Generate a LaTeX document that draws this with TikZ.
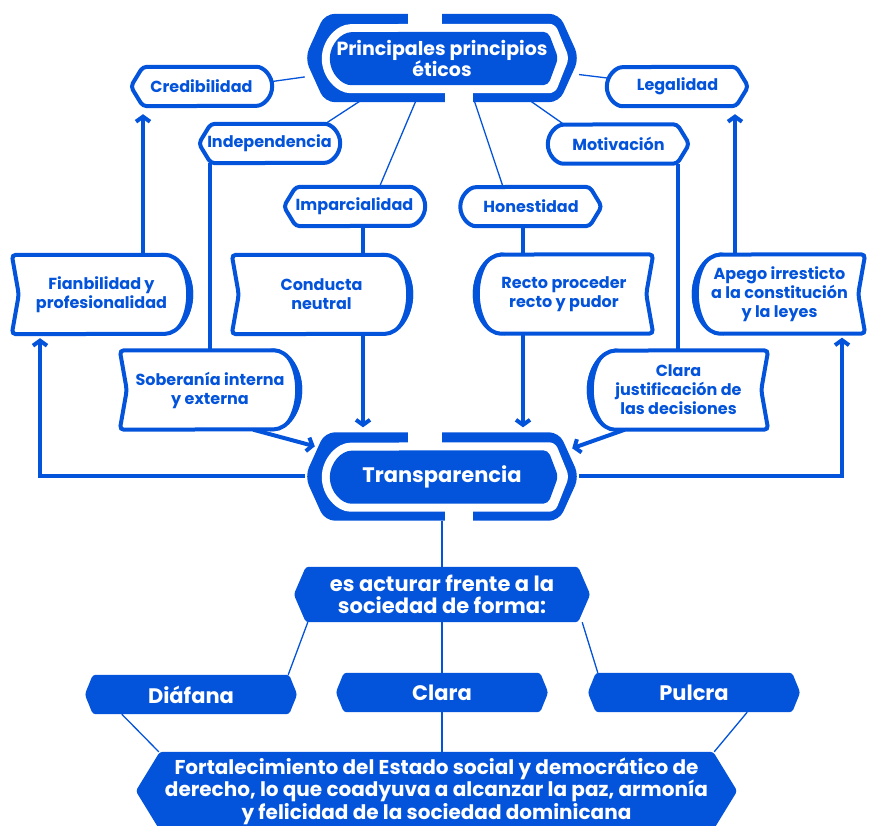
\documentclass[tikz,border=0pt]{standalone}
\usepackage{fontspec}
\setmainfont{Poppins}
\usepackage{tikz}
\usetikzlibrary{arrows.meta,backgrounds}
\definecolor{cblue}{HTML}{0353DB}

\begin{document}
\begin{tikzpicture}[
    x=1pt, y=1pt,
    thinline/.style={draw=cblue, line width=1.3pt},
    thickline/.style={draw=cblue, line width=4pt},
    arr/.style={thickline, -{Straight Barb[length=5pt,width=14pt]}},
    tagl/.style={minimum width=141pt, minimum height=39pt, inner sep=0pt, text=cblue,
      font=\bfseries\fontsize{16}{18}\selectfont,
      append after command={\pgfextra{
        \filldraw[fill=white, draw=cblue, line width=4pt, rounded corners=4pt]
          ([xshift=12pt]\tikzlastnode.north west) -- ([xshift=-19.5pt]\tikzlastnode.north east)
          arc[start angle=90, end angle=-90, radius=19.5pt]
          -- ([xshift=12pt]\tikzlastnode.south west) -- (\tikzlastnode.west) -- cycle;}}},
    tagr/.style={minimum width=141pt, minimum height=39pt, inner sep=0pt, text=cblue,
      font=\bfseries\fontsize{16}{18}\selectfont,
      append after command={\pgfextra{
        \filldraw[fill=white, draw=cblue, line width=4pt, rounded corners=4pt]
          (\tikzlastnode.north) -- ([xshift=-12pt]\tikzlastnode.north east)
          -- (\tikzlastnode.east) -- ([xshift=-12pt]\tikzlastnode.south east)
          -- ([xshift=19.5pt]\tikzlastnode.south west)
          arc[start angle=270, end angle=90, radius=19.5pt] -- cycle;}}},
    docl/.style={minimum width=#1, minimum height=79pt, inner sep=0pt, text=cblue, align=center,
      font=\bfseries\fontsize{16}{19}\selectfont,
      append after command={\pgfextra{
        \filldraw[fill=white, draw=cblue, line width=4pt, rounded corners=4pt]
          (\tikzlastnode.north west) -- ([xshift=-30pt]\tikzlastnode.north east)
          arc[start angle=90, end angle=-90, x radius=30pt, y radius=39.5pt]
          -- (\tikzlastnode.south west) -- ([xshift=7pt]\tikzlastnode.west) -- cycle;
        \fill[cblue] ([xshift=-30pt,yshift=2pt]\tikzlastnode.north east)
          arc[start angle=90, end angle=-90, x radius=32pt, y radius=41.5pt]
          arc[start angle=-90, end angle=90, x radius=25pt, y radius=41.5pt] -- cycle;}}},
    docr/.style={minimum width=#1, minimum height=79pt, inner sep=0pt, text=cblue, align=center,
      font=\bfseries\fontsize{16}{19}\selectfont,
      append after command={\pgfextra{
        \filldraw[fill=white, draw=cblue, line width=4pt, rounded corners=4pt]
          (\tikzlastnode.north) -- (\tikzlastnode.north east)
          -- ([xshift=-7pt]\tikzlastnode.east) -- (\tikzlastnode.south east)
          -- ([xshift=30pt]\tikzlastnode.south west)
          arc[start angle=270, end angle=90, x radius=30pt, y radius=39.5pt] -- cycle;
        \fill[cblue] ([xshift=30pt,yshift=2pt]\tikzlastnode.north west)
          arc[start angle=90, end angle=270, x radius=32pt, y radius=41.5pt]
          arc[start angle=270, end angle=90, x radius=25pt, y radius=41.5pt] -- cycle;}}},
    hexfill/.style={inner sep=0pt, text=white, align=center,
      append after command={\pgfextra{
        \fill[cblue, rounded corners=3pt]
          ([xshift=#1]\tikzlastnode.north west) -- ([xshift=-#1]\tikzlastnode.north east)
          -- (\tikzlastnode.east) -- ([xshift=-#1]\tikzlastnode.south east)
          -- ([xshift=#1]\tikzlastnode.south west) -- (\tikzlastnode.west) -- cycle;}}},
    ring/.style={minimum width=274pt, minimum height=88pt, inner sep=0pt, text=white, align=center,
      append after command={\pgfextra{
        \fill[cblue, rounded corners=10pt]
          ([xshift=20pt]\tikzlastnode.north west) -- ([xshift=-20pt]\tikzlastnode.north east)
          -- (\tikzlastnode.east) -- ([xshift=-20pt]\tikzlastnode.south east)
          -- ([xshift=20pt]\tikzlastnode.south west) -- (\tikzlastnode.west) -- cycle;
        \fill[white, rounded corners=6pt]
          ([yshift=-10pt]\tikzlastnode.north) -- ([xshift=-24pt,yshift=-10pt]\tikzlastnode.north east)
          -- ([xshift=-10pt]\tikzlastnode.east) -- ([xshift=-24pt,yshift=9pt]\tikzlastnode.south east)
          -- ([xshift=51.5pt,yshift=9pt]\tikzlastnode.south west)
          arc[start angle=270, end angle=90, radius=34.5pt] -- cycle;
        \fill[cblue, rounded corners=5pt]
          ([yshift=-18pt]\tikzlastnode.north) -- ([xshift=-31pt,yshift=-18pt]\tikzlastnode.north east)
          -- ([xshift=-21pt]\tikzlastnode.east) -- ([xshift=-31pt,yshift=17pt]\tikzlastnode.south east)
          -- ([xshift=51.5pt,yshift=17pt]\tikzlastnode.south west)
          arc[start angle=270, end angle=90, radius=26.5pt] -- cycle;
        \fill[white] ([xshift=-34pt,yshift=4pt]\tikzlastnode.north) rectangle ([yshift=-11pt]\tikzlastnode.north);
        \fill[white] ([xshift=3pt,yshift=-4pt]\tikzlastnode.south) rectangle ([xshift=31pt,yshift=11pt]\tikzlastnode.south);}}}
  ]
  \useasboundingbox (0,0) rectangle (871,-826);

  % hubs
  \node[ring, font=\bfseries\fontsize{19}{21}\selectfont] (ppe) at (442,-58) {Principales principios\\éticos};
  \node[ring, font=\bfseries\fontsize{21}{24}\selectfont] (trans) at (442,-476.5) {Transparencia};

  % principles
  \node[tagl] (cred) at (201.5,-86.5) {Credibilidad};
  \node[tagl] (indep) at (269.5,-143.5) {Independencia};
  \node[tagl] (impar) at (354.5,-206.5) {Imparcialidad};
  \node[tagr] (legal) at (677.5,-86.5) {Legalidad};
  \node[tagr] (motiv) at (618.5,-144) {Motivación};
  \node[tagr] (hones) at (531,-206.5) {Honestidad};

  \node[docl=179pt] (fiab) at (101.5,-294.5) {Fianbilidad y\\profesionalidad};
  \node[docl=179pt] (cond) at (321.5,-294.5) {Conducta\\neutral};
  \node[docl=180pt] (sober) at (210,-390) {Soberanía interna\\y externa};
  \node[docr=178pt] (recto) at (564,-294) {Recto proceder\\recto y pudor};
  \node[docr=171pt] (apego) at (779.5,-294) {Apego irresticto\\a la constitución\\y la leyes};
  \node[docr=179pt] (clarj) at (678.5,-390) {Clara\\justificación de\\las decisiones};

  % lower part
  \node[hexfill=12pt, minimum width=296pt, minimum height=55pt, font=\bfseries\fontsize{21}{22}\selectfont] (actuar) at (442,-594.5) {es acturar frente a la\\sociedad de forma:};
  \node[hexfill=8pt, minimum width=212pt, minimum height=39pt, font=\bfseries\fontsize{21}{22}\selectfont] (diaf) at (191,-694.5) {Diáfana};
  \node[hexfill=8pt, minimum width=212pt, minimum height=39pt, font=\bfseries\fontsize{21}{22}\selectfont] (clara) at (442,-692.5) {Clara};
  \node[hexfill=8pt, minimum width=212pt, minimum height=39pt, font=\bfseries\fontsize{21}{22}\selectfont] (pulcra) at (694,-692.5) {Pulcra};
  \node[hexfill=24pt, minimum width=601pt, minimum height=78pt, font=\bfseries\fontsize{20}{22.5}\selectfont] (fort) at (436.5,-791) {Fortalecimiento del Estado social y democrático de\\derecho, lo que coadyuva a alcanzar la paz, armonía\\y felicidad de la sociedad dominicana};

  \begin{scope}[on background layer]
    % thin links to the top hub
    \draw[thinline] ([yshift=5pt]cred.east) -- (ppe);
    \draw[thinline] ([xshift=-15pt]indep.north east) -- ([xshift=-16pt]ppe.center);
    \draw[thinline] ([xshift=25pt]impar.north) -- ([xshift=-8pt]ppe.center);
    \draw[thinline] (ppe) -- (legal);
    \draw[thinline] ([xshift=27pt]ppe.center) -- ([xshift=16pt]motiv.north west);
    \draw[thinline] ([xshift=18pt]ppe.center) -- ([xshift=-28pt]hones.north);

    % bars and arrows
    \draw[thickline] ([xshift=11pt]indep.south west) -- ([xshift=11pt]indep.south west |- sober.north);
    \draw[thickline] ([xshift=8.5pt]impar.south) -- ([xshift=8.5pt]impar.south |- cond.north);
    \draw[thickline] ([xshift=-8pt]hones.south) -- ([xshift=-8pt]hones.south |- recto.north);
    \draw[thickline] ([xshift=59.5pt]motiv.south) -- ([xshift=59.5pt]motiv.south |- clarj.north);
    \draw[arr, shorten >=8pt] ([xshift=41.5pt]fiab.north) -- ([xshift=41.5pt]fiab.north |- cred.south);
    \draw[arr, shorten >=8pt] ([xshift=-44.5pt]apego.north) -- ([xshift=-44.5pt]apego.north |- legal.south);
    \draw[arr, shorten >=5pt] ([xshift=41.5pt]cond.south) -- ([xshift=41.5pt]cond.south |- trans.north);
    \draw[arr, shorten >=5pt] ([xshift=-41pt]recto.south) -- ([xshift=-41pt]recto.south |- trans.north);
    \draw[arr] ([xshift=-47pt]sober.south east) -- ([shift={(10pt,-14pt)}]trans.north west);
    \draw[arr] ([xshift=36pt]clarj.south west) -- ([shift={(-7pt,-16pt)}]trans.north east);
    \draw[arr, shorten >=4pt] (trans.west) -| ([xshift=-61.5pt]fiab.south);
    \draw[arr, shorten >=4pt] (trans.east) -| ([xshift=62.5pt]apego.south);

    % lower links
    \draw[thinline] (trans) -- (actuar);
    \draw[thinline] ([xshift=14pt]actuar.south west) -- ([xshift=-9pt]diaf.north east);
    \draw[thinline] (actuar) -- (clara);
    \draw[thinline] ([xshift=-8pt]actuar.south east) -- ([xshift=10pt]pulcra.north west);
    \draw[thinline] ([xshift=37pt]diaf.south west) -- ([xshift=23pt]fort.north west);
    \draw[thinline] (clara) -- (clara |- fort.north);
    \draw[thinline] ([xshift=-53pt]pulcra.south east) -- ([xshift=-23pt]fort.north east);
  \end{scope}
\end{tikzpicture}
\end{document}
